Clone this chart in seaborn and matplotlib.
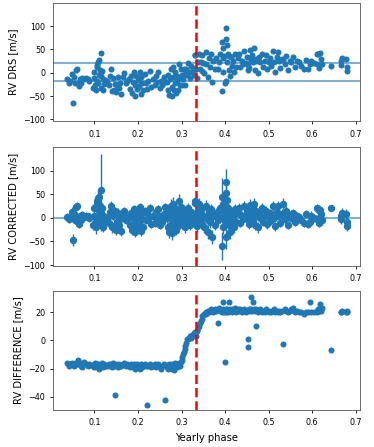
import pandas as pd
import numpy as np
import matplotlib
matplotlib.use("Agg")
import matplotlib.pyplot as plt
import seaborn as sns

# yearly phase of each observation
phase = [0.038, 0.041, 0.044, 0.048, 0.050, 0.052, 0.055, 0.058, 0.060, 0.062,
         0.065, 0.067, 0.070, 0.072, 0.076, 0.080, 0.085, 0.088,
         0.097, 0.099, 0.100, 0.102, 0.103, 0.105, 0.106, 0.107, 0.108, 0.109,
         0.110, 0.111, 0.113, 0.114, 0.115, 0.116, 0.117, 0.119, 0.120, 0.122, 0.125,
         0.130, 0.133, 0.136, 0.138, 0.140, 0.142, 0.145, 0.147, 0.149, 0.151,
         0.153, 0.156, 0.158, 0.161, 0.165, 0.168, 0.172, 0.175,
         0.180, 0.182, 0.184, 0.186, 0.188, 0.190, 0.192, 0.194, 0.196, 0.198,
         0.200, 0.202, 0.204, 0.206, 0.208, 0.210, 0.212, 0.215, 0.218, 0.221,
         0.224, 0.227, 0.230,
         0.235, 0.238, 0.241, 0.244, 0.247, 0.250, 0.253, 0.256, 0.259, 0.263,
         0.266, 0.268, 0.270, 0.272, 0.274, 0.275, 0.277, 0.278, 0.280, 0.281,
         0.283, 0.284, 0.286, 0.287, 0.289, 0.290, 0.292, 0.293, 0.295, 0.296,
         0.298, 0.300,
         0.302, 0.303, 0.305, 0.307, 0.309, 0.311, 0.313, 0.315, 0.317, 0.320,
         0.322, 0.324, 0.326, 0.328, 0.330,
         0.331, 0.334, 0.336, 0.338, 0.340, 0.342, 0.344, 0.346, 0.348, 0.350,
         0.352, 0.355, 0.357, 0.360, 0.362, 0.365, 0.368, 0.370, 0.373, 0.376,
         0.380, 0.383, 0.386, 0.389,
         0.392, 0.393, 0.394, 0.395, 0.396, 0.398, 0.400, 0.401, 0.402, 0.403,
         0.404, 0.405, 0.406, 0.408, 0.410, 0.412, 0.414, 0.416, 0.418, 0.420,
         0.423, 0.426, 0.429, 0.432, 0.435, 0.438, 0.441, 0.444, 0.447, 0.450,
         0.452, 0.453, 0.455, 0.457, 0.459, 0.460, 0.462, 0.464, 0.466, 0.468,
         0.470, 0.472, 0.475, 0.478, 0.481, 0.485, 0.488, 0.491, 0.494, 0.497,
         0.500, 0.503, 0.506, 0.509, 0.512, 0.515, 0.518, 0.521, 0.524, 0.527,
         0.530, 0.534, 0.537, 0.540, 0.544, 0.548, 0.552, 0.556, 0.560, 0.565,
         0.570, 0.575, 0.580, 0.585, 0.590, 0.595, 0.598, 0.603, 0.610, 0.612,
         0.614, 0.616, 0.618, 0.620, 0.622, 0.643, 0.665, 0.667, 0.669, 0.678,
         0.679, 0.680]

# RV from the DRS pipeline [m/s]
rv_drs = [-14, -21, -17, -3, -64, -10, -21, 5, 8, -22,
          -29, -13, -23, -12, -13, -12, -14, -17,
          -33, -12, 1, -26, -38, 13, -18, 16, -22, 24,
          -5, 27, 6, -32, 42, -8, 4, -38, -14, -25, -16,
          -18, -27, -6, 8, -39, -11, -36, -25, -42, -26,
          -9, -32, -21, -46, -9, -1, -23, -17,
          -13, -34, -7, -43, -19, 1, -26, -50, -6, -35,
          -16, -28, 2, -46, -9, -22, -38, -2, -23, -35,
          -18, 3, -31,
          -13, -27, -7, -20, 1, -33, -17, -26, -9, -20,
          -19, -38, -5, -47, -14, 7, -30, -50, -9, 12,
          -36, -21, 1, -43, -17, -7, -36, 19, -12, -26,
          7, -26,
          -4, -13, 7, -26, -2, 8, -4, 21, 2, -12,
          14, 2, 11, -5, 39,
          38, 8, -11, 24, 40, 7, 24, 3, 37, 21,
          -1, 45, 19, -9, 32, 13, 40, -19, 25, 7,
          31, 7, 23, 41,
          65, -39, 52, 32, 1, 35, -22, 96, 72, -18,
          59, 22, 40, 6, 35, -8, 33, 15, 25, 1,
          41, 12, 32, 41, 12, 25, 18, 47, 20, 33,
          5, 16, 10, 49, 27, 31, 39, 22, 52, 6,
          25, 30, 0, 33, 22, 40, 13, 25, 37, 9,
          23, 31, 15, 46, 22, 2, 33, 45, 26, 10,
          29, 27, 19, 36, 5, 26, 22, 33, 12, 26,
          22, 15, 9, 28, 8, 19, 25, 20, 41, 18,
          40, 11, 42, 29, 18, 15, 25, 17, 31, 29,
          13, 3]

# RV corrected [m/s]
rv_corr = [2, -3, 0, 13, -47, 8, -5, 22, 25, -8,
           -12, 3, -5, 7, 2, 5, 4, 0,
           -15, 5, 20, -10, -20, 30, 0, 35, -5, 42,
           15, 45, 25, -15, 60, 10, 20, -20, 5, -8, 2,
           0, -10, 12, 25, -20, 5, -18, 14, -25, -8,
           10, -15, -3, -28, 8, 15, -5, 0,
           5, -15, 10, -25, 0, 18, -8, -30, 12, -18,
           3, -10, 22, -28, 8, -3, -20, 15, -5, 10,
           0, 20, -12,
           5, -10, 12, -2, 18, -15, 3, -8, 8, 22,
           0, -20, 15, -30, 5, 25, -10, -33, 10, 30,
           -15, -5, 20, -25, 0, 12, -18, 35, 5, -8,
           22, -12,
           8, -3, 15, -20, 2, 10, -5, 20, 0, -15,
           12, -2, 8, -10, 35,
           32, 5, -18, 15, 30, -5, 10, -12, 20, 3,
           -20, 25, 0, -30, 12, -8, 18, -40, 5, -15,
           10, -5, 0, 20,
           45, -60, 30, 5, -20, 15, -7, 75, 52, -40,
           38, 0, 20, -15, 8, -30, 12, -5, 3, -20,
           18, -8, 10, 20, -10, 5, -3, 25, 0, 12,
           10, 15, -12, 28, 5, 0, 18, -5, 30, -15,
           15, 8, -20, 12, 0, 20, -8, 5, 15, -12,
           3, 10, -5, 25, 0, -18, 12, 25, 5, -10,
           8, 30, -3, 15, -15, 5, 0, 10, -8, 5,
           2, -5, -10, 8, -12, -8, 5, 0, 20, -2,
           18, -10, 16, 8, -5, 21, 5, -3, 10, 8,
           -8, -17]

# error on the corrected RV [m/s]
rv_err = [8, 7, 9, 10, 12, 8, 9, 10, 9, 8,
          10, 7, 9, 8, 7, 8, 7, 8,
          10, 9, 12, 10, 14, 15, 10, 14, 11, 16,
          12, 15, 13, 12, 75, 10, 11, 10, 9, 10, 8,
          9, 10, 9, 10, 11, 9, 10, 9, 11, 9,
          10, 9, 8, 10, 9, 8, 9, 8,
          9, 10, 9, 11, 9, 10, 9, 10, 9, 10,
          8, 9, 10, 11, 9, 8, 10, 9, 8, 9,
          8, 9, 10,
          9, 10, 9, 8, 10, 9, 8, 9, 10, 9,
          10, 12, 11, 13, 10, 14, 11, 13, 12, 14,
          12, 10, 13, 12, 11, 12, 13, 15, 11, 12,
          13, 12,
          11, 10, 12, 11, 10, 11, 10, 12, 10, 11,
          10, 9, 10, 11, 10,
          9, 12, 11, 10, 12, 11, 10, 12, 11, 10,
          12, 13, 11, 14, 12, 13, 11, 15, 12, 11,
          10, 11, 10, 12,
          40, 30, 15, 12, 14, 12, 10, 28, 18, 25,
          15, 12, 13, 14, 11, 15, 12, 11, 10, 12,
          11, 10, 11, 12, 10, 9, 10, 11, 9, 10,
          9, 10, 11, 12, 10, 9, 11, 10, 12, 11,
          10, 9, 11, 10, 9, 11, 10, 9, 10, 11,
          10, 9, 10, 11, 9, 10, 9, 11, 10, 9,
          10, 11, 9, 10, 9, 10, 9, 8, 9, 8,
          9, 8, 9, 8, 9, 8, 9, 8, 10, 9,
          10, 9, 10, 9, 10, 5, 10, 9, 10, 10,
          9, 10]

# RV difference [m/s]
rv_diff = [-16, -18, -17, -16, -17, -18, -16, -17, -17, -14,
           -17, -16, -18, -19, -15, -17, -18, -17,
           -18, -17, -19, -16, -18, -17, -18, -19, -17, -18,
           -20, -18, -19, -17, -18, -18, -16, -18, -19, -17, -18,
           -18, -17, -18, -17, -19, -16, -18, -38.5, -17, -18,
           -19, -17, -18, -18, -17, -16, -18, -17,
           -18, -19, -17, -18, -19, -17, -18, -20, -18, -17,
           -19, -18, -20, -18, -17, -19, -18, -17, -18, -45.5,
           -18, -17, -19,
           -18, -17, -19, -18, -17, -18, -20, -18, -17, -42,
           -19, -18, -20, -17, -19, -18, -20, -17, -19, -18,
           -21, -16, -19, -18, -17, -19, -18, -16, -17, -18,
           -15, -14,
           -12, -10, -8, -6, -4, -2, 1, 1, 2, 3,
           2, 4, 3, 5, 4,
           6, 3, 7, 9, 10, 12, 14, 15, 17, 18,
           19, 20, 19, 21, 20, 21, 22, 21, 20, 22,
           21, 12, 23, 21,
           20, 21, 22, 27, 21, 20, -15.5, 21, 20, 22,
           21, 22, 20, 21, 27.5, 22, 21, 20, 22, 21,
           23, 20, 22, 21, 22, 20, 21, 22, 20, 21,
           -5, 1, 22, 21, 22, 31, 21, 27, 22, 21,
           10, 22, 20, 21, 22, 20, 21, 20, 22, 21,
           20, 21, 20, 21, 22, 20, 21, 20, 21, 20,
           21, -2.5, 22, 21, 20, 21, 22, 23, 20, 21,
           20, 20, 19, 20, 20, 27, 20, 20, 21, 20,
           22, 21, 26, 21, 23, -6.5, 20, 20, 21, 20.5,
           21, 20]

# levels of the two plateaus drawn on the DRS panel
drs_levels = [21, -17]
zero_level = [0]
year_third = 1 / 3

df = pd.DataFrame({"phase": phase, "drs": rv_drs, "corr": rv_corr,
                   "err": rv_err, "diff": rv_diff})

blue = "#1f77b4"
fig, axes = plt.subplots(3, 1, figsize=(3.74, 4.47), dpi=100)
plt.subplots_adjust(left=0.143, right=0.963, top=0.994, bottom=0.083, hspace=0.217)

# top: DRS
ax = axes[0]
sns.scatterplot(data=df, x="phase", y="drs", ax=ax, color=blue, s=19, linewidth=0)
for lev in drs_levels:
    ax.axhline(lev, color=blue, lw=1.1, alpha=0.75)
ax.axvline(year_third, color="red", ls="--", lw=1.8)
ax.set_ylim(-104, 150)
ax.set_yticks([-100, -50, 0, 50, 100])
ax.set_ylabel("RV DRS [m/s]")

# middle: corrected, with error bars
ax = axes[1]
ax.errorbar(df["phase"], df["corr"], yerr=df["err"], fmt="o", color=blue,
            ecolor=blue, elinewidth=1.0, markersize=4.3)
for lev in zero_level:
    ax.axhline(lev, color=blue, lw=1.1, alpha=0.75)
ax.axvline(year_third, color="red", ls="--", lw=1.8)
ax.set_ylim(-101, 150)
ax.set_yticks([-100, -50, 0, 50, 100])
ax.set_ylabel("RV CORRECTED [m/s]")

# bottom: difference
ax = axes[2]
sns.scatterplot(data=df, x="phase", y="diff", ax=ax, color=blue, s=19, linewidth=0)
ax.axvline(year_third, color="red", ls="--", lw=1.8)
ax.set_yticks([-40, -20, 0, 20])
ax.set_ylabel("RV DIFFERENCE [m/s]")
ax.set_xlabel("Yearly phase")

for ax in axes:
    ax.set_xlim(0.006, 0.710)
    ax.set_xticks([0.1, 0.2, 0.3, 0.4, 0.5, 0.6, 0.7])
    ax.tick_params(labelsize=5.8, length=2.5, width=0.6)
    ax.yaxis.label.set_size(7.2)
    ax.xaxis.label.set_size(7.2)
    if ax is not axes[2]:
        ax.set_xlabel("")
    for sp in ax.spines.values():
        sp.set_linewidth(0.6)
        sp.set_color("#555555")

plt.savefig("out.png", dpi=100)
